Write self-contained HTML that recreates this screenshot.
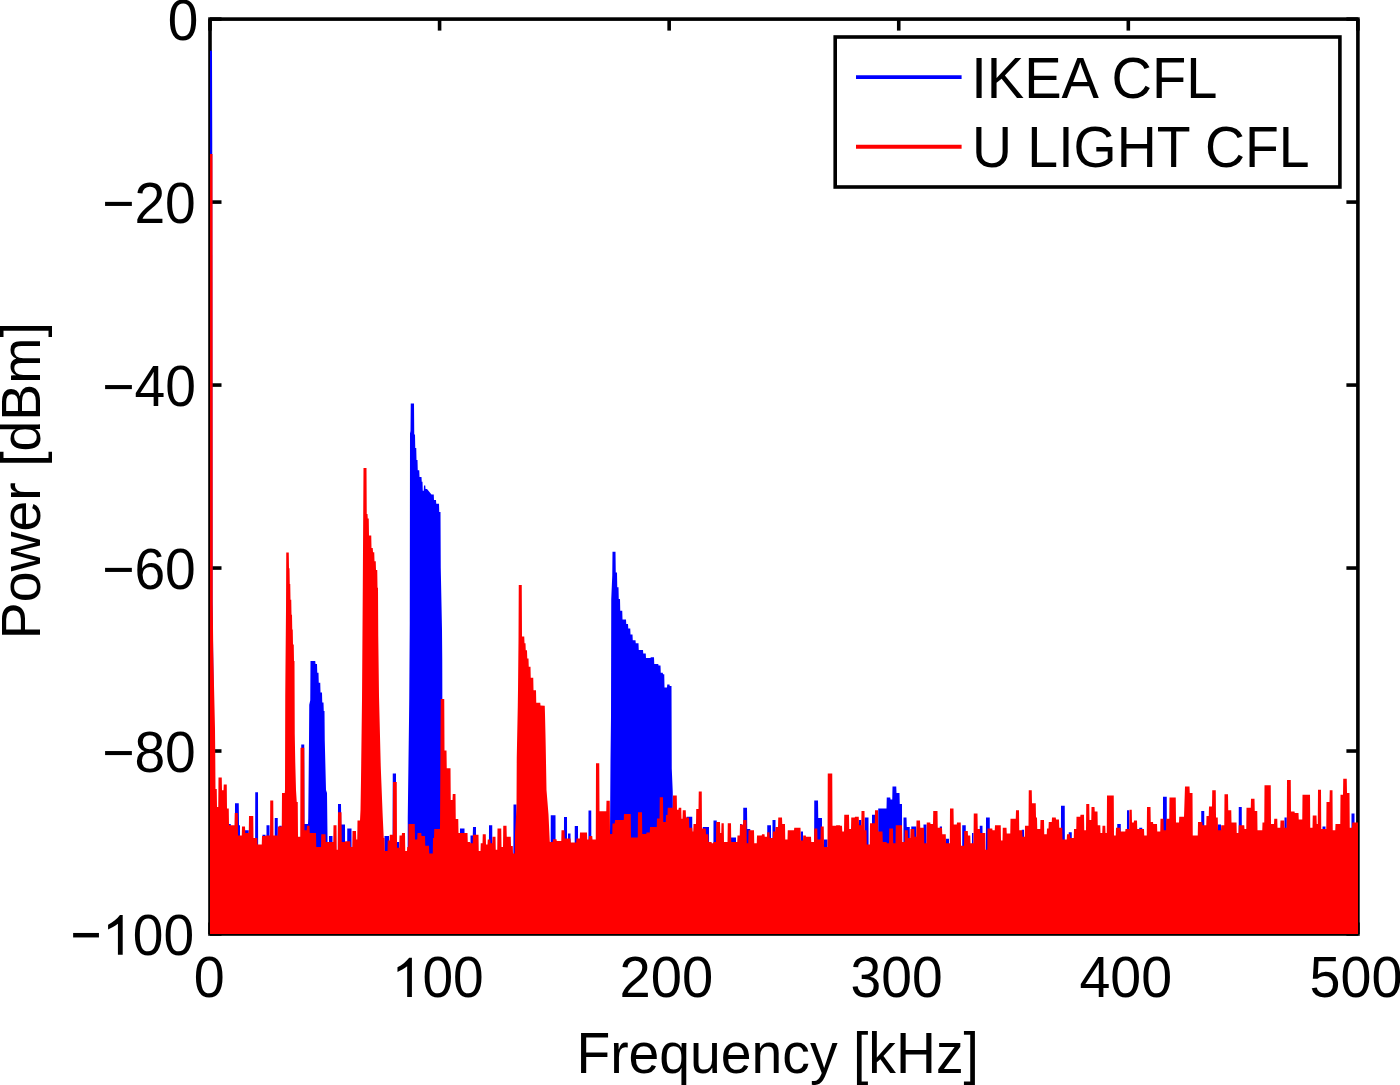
<!DOCTYPE html>
<html><head><meta charset="utf-8"><style>html,body{margin:0;padding:0;background:#fff;overflow:hidden}svg{display:block}</style></head>
<body><svg width="1400" height="1085" viewBox="0 0 1400 1085">
<rect width="1400" height="1085" fill="#fff"/>
<g fill="none" stroke="#000" stroke-width="3.6" stroke-linecap="butt">
<rect x="210" y="19.1" width="1147.9" height="914.9" stroke-linejoin="miter"/>
<line x1="210.00" y1="934" x2="210.00" y2="922.5"/><line x1="210.00" y1="19.1" x2="210.00" y2="30.6"/><line x1="439.58" y1="934" x2="439.58" y2="922.5"/><line x1="439.58" y1="19.1" x2="439.58" y2="30.6"/><line x1="669.16" y1="934" x2="669.16" y2="922.5"/><line x1="669.16" y1="19.1" x2="669.16" y2="30.6"/><line x1="898.74" y1="934" x2="898.74" y2="922.5"/><line x1="898.74" y1="19.1" x2="898.74" y2="30.6"/><line x1="1128.32" y1="934" x2="1128.32" y2="922.5"/><line x1="1128.32" y1="19.1" x2="1128.32" y2="30.6"/><line x1="1357.90" y1="934" x2="1357.90" y2="922.5"/><line x1="1357.90" y1="19.1" x2="1357.90" y2="30.6"/><line x1="210" y1="19.10" x2="221.5" y2="19.10"/><line x1="1357.9" y1="19.10" x2="1346.4" y2="19.10"/><line x1="210" y1="202.08" x2="221.5" y2="202.08"/><line x1="1357.9" y1="202.08" x2="1346.4" y2="202.08"/><line x1="210" y1="385.06" x2="221.5" y2="385.06"/><line x1="1357.9" y1="385.06" x2="1346.4" y2="385.06"/><line x1="210" y1="568.04" x2="221.5" y2="568.04"/><line x1="1357.9" y1="568.04" x2="1346.4" y2="568.04"/><line x1="210" y1="751.02" x2="221.5" y2="751.02"/><line x1="1357.9" y1="751.02" x2="1346.4" y2="751.02"/><line x1="210" y1="934.00" x2="221.5" y2="934.00"/><line x1="1357.9" y1="934.00" x2="1346.4" y2="934.00"/>
</g>
<defs><clipPath id="c"><rect x="210" y="19.1" width="1147.9" height="914.9"/></clipPath></defs>
<g clip-path="url(#c)">
<path d="M208.00,939.0 208.00,900.0 209.75,900.0 210.00,50.7 212.00,50.7 212.25,142.3 212.50,600.0 213.50,680.0 213.75,900.0 228.75,900.0 229.00,823.9 230.75,823.9 231.00,900.0 234.75,900.0 235.00,803.2 238.75,803.2 239.00,825.2 240.00,825.2 240.25,900.0 244.75,900.0 245.00,830.3 248.75,830.3 249.00,900.0 255.00,900.0 255.25,792.3 258.00,792.3 258.25,900.0 262.25,900.0 262.50,834.8 265.50,834.8 265.75,900.0 266.25,900.0 266.50,825.2 269.50,825.2 269.75,900.0 274.50,900.0 274.75,818.0 277.75,818.0 278.00,900.0 279.00,900.0 279.25,825.8 281.75,825.8 282.00,900.0 301.00,900.0 301.25,744.5 304.25,744.5 304.50,823.9 308.00,823.9 308.25,818.7 309.00,740.8 309.25,704.8 310.25,700.2 310.50,661.1 315.25,661.1 315.50,664.0 317.00,664.0 317.25,672.7 318.50,672.7 318.75,682.7 320.25,682.7 320.50,692.6 322.00,692.6 322.25,702.6 323.50,702.6 323.75,710.9 324.50,710.9 324.75,740.0 326.00,790.0 327.00,793.0 327.50,836.0 327.75,900.0 328.75,900.0 329.00,836.1 332.50,836.1 332.75,900.0 337.75,900.0 338.00,803.9 341.00,803.9 341.25,824.5 345.00,824.5 345.25,900.0 347.00,900.0 347.25,828.4 351.50,828.4 351.75,900.0 384.25,900.0 384.50,836.1 389.00,836.1 389.25,900.0 392.50,900.0 392.75,773.5 396.00,773.5 396.25,900.0 396.75,900.0 397.00,842.0 399.25,842.0 399.50,900.0 407.50,900.0 407.75,817.2 409.00,721.3 409.25,698.4 409.75,622.7 410.00,433.5 410.50,431.0 410.75,403.4 414.00,403.4 414.25,434.5 415.00,434.5 415.25,448.0 416.25,448.0 416.50,460.0 417.50,460.0 417.75,470.3 419.25,470.3 419.50,477.0 421.50,477.0 421.75,481.7 422.50,481.7 422.75,490.8 423.75,490.8 424.00,485.5 425.25,485.5 425.50,489.0 427.00,489.0 431.50,494.6 433.75,494.6 434.00,500.0 436.00,500.0 436.25,503.7 439.00,503.7 439.25,512.0 440.50,512.0 440.75,567.5 442.00,630.0 442.25,660.0 442.50,760.0 443.00,829.0 443.25,900.0 459.75,900.0 460.00,828.4 464.50,828.4 464.75,900.0 470.25,900.0 470.50,835.5 472.75,835.5 473.00,827.1 476.00,827.1 476.25,900.0 488.75,900.0 489.00,825.2 492.25,825.2 492.50,900.0 513.25,900.0 513.50,804.5 516.50,804.5 516.75,900.0 550.50,900.0 550.75,815.2 555.50,815.2 555.75,900.0 563.75,900.0 564.00,817.0 567.00,817.0 567.25,900.0 567.75,900.0 568.00,833.5 570.50,833.5 570.75,900.0 574.50,900.0 574.75,826.0 578.00,826.0 578.25,900.0 588.25,900.0 588.50,810.5 591.25,810.5 591.50,900.0 609.75,900.0 610.00,834.0 610.50,760.0 611.00,717.1 611.25,598.9 612.25,575.5 612.50,551.8 615.50,551.8 615.75,572.4 617.00,572.4 617.25,587.2 618.50,587.2 618.75,599.0 620.00,599.0 620.25,610.8 622.25,610.8 622.50,619.6 626.00,619.6 626.25,624.1 628.00,624.1 628.25,628.5 630.25,628.5 630.50,634.4 632.50,634.4 632.75,640.3 635.50,640.3 635.75,643.2 638.50,643.2 638.75,649.9 643.00,649.9 643.25,653.6 645.75,653.6 646.00,658.0 650.50,658.0 650.75,657.3 654.00,657.3 654.25,663.9 658.25,663.9 658.50,665.4 660.50,665.4 660.75,672.7 662.75,672.7 663.00,674.2 664.25,674.2 664.50,687.5 667.00,687.5 667.25,684.5 669.50,684.5 669.75,686.0 671.50,686.0 671.75,768.5 672.75,792.0 673.00,830.0 673.25,900.0 686.25,900.0 686.50,816.8 692.25,816.8 692.50,900.0 702.50,900.0 702.75,827.1 709.00,827.1 709.25,900.0 713.25,900.0 713.50,820.6 716.75,820.6 717.00,900.0 730.75,900.0 731.00,837.4 736.00,837.4 736.25,900.0 739.75,900.0 740.00,823.9 741.75,823.9 742.00,900.0 743.00,900.0 743.25,807.7 747.00,807.7 747.25,829.0 750.25,829.0 750.50,900.0 767.00,900.0 767.25,825.2 771.00,825.2 771.25,900.0 772.25,900.0 772.50,820.0 775.50,820.0 775.75,900.0 800.50,900.0 800.75,831.6 803.00,831.6 803.25,900.0 814.00,900.0 814.25,800.6 818.00,800.6 818.25,818.0 822.00,818.0 822.25,900.0 823.75,900.0 824.00,839.4 827.50,839.4 827.75,900.0 858.75,900.0 859.00,820.0 861.25,820.0 861.50,900.0 864.50,900.0 864.75,817.4 868.50,817.4 868.75,900.0 871.75,900.0 872.00,814.8 875.00,814.8 875.25,900.0 878.00,900.0 878.25,808.4 886.50,808.4 886.75,797.4 890.25,797.4 890.50,799.4 892.25,799.4 892.50,786.5 896.25,786.5 896.50,792.9 899.50,792.9 899.75,803.9 902.00,803.9 902.25,900.0 903.25,900.0 903.50,817.4 906.50,817.4 906.75,827.1 909.75,827.1 910.00,900.0 911.00,900.0 911.25,826.5 916.25,826.5 916.50,900.0 923.25,900.0 923.50,824.5 926.50,824.5 926.75,900.0 939.50,900.0 939.75,826.5 942.00,826.5 942.25,900.0 945.75,900.0 946.00,838.7 949.00,838.7 949.25,900.0 962.00,900.0 962.25,825.2 965.75,825.2 966.00,900.0 971.75,900.0 972.00,832.9 973.50,832.9 973.75,900.0 979.50,900.0 979.75,825.8 982.50,825.8 982.75,900.0 985.75,900.0 986.00,817.4 989.75,817.4 990.00,900.0 1021.50,900.0 1021.75,829.7 1024.00,829.7 1024.25,900.0 1036.25,900.0 1036.50,829.0 1039.00,829.0 1039.25,900.0 1060.75,900.0 1061.00,805.8 1064.75,805.8 1065.00,900.0 1068.50,900.0 1068.75,832.3 1071.75,832.3 1072.00,900.0 1117.00,900.0 1117.25,823.9 1120.75,823.9 1121.00,900.0 1126.75,900.0 1127.00,810.3 1129.25,810.3 1129.50,900.0 1139.00,900.0 1139.25,827.7 1142.25,827.7 1142.50,900.0 1162.75,900.0 1163.00,796.8 1166.75,796.8 1167.00,900.0 1201.00,900.0 1201.25,811.0 1204.25,811.0 1204.50,900.0 1217.75,900.0 1218.00,824.5 1221.00,824.5 1221.25,900.0 1238.50,900.0 1238.75,807.1 1241.75,807.1 1242.00,900.0 1284.25,900.0 1284.50,817.4 1286.75,817.4 1287.00,900.0 1322.25,900.0 1322.50,826.5 1325.50,826.5 1325.75,900.0 1351.25,900.0 1351.50,813.5 1354.50,813.5 1354.75,900.0 1360.00,900.0 1360.00,939.0Z" fill="#0000ff"/>
<path d="M208.00,939.0 208.00,154.0 212.50,154.0 212.75,604.5 213.25,650.4 213.50,663.7 215.00,729.0 215.25,754.8 215.50,789.0 216.75,789.0 217.00,807.0 218.25,807.0 218.50,777.4 221.75,777.4 222.00,790.3 223.50,790.3 223.75,784.5 226.75,784.5 227.00,808.4 228.75,808.4 229.00,825.2 234.50,825.2 234.75,812.9 237.75,812.9 238.00,835.5 241.75,835.5 242.00,826.5 245.00,826.5 245.25,832.9 248.75,832.9 249.00,816.1 253.25,816.1 253.50,838.0 257.25,838.0 257.50,844.5 261.75,844.5 262.00,836.1 265.50,836.1 265.75,835.5 270.00,835.5 270.25,800.6 273.25,800.6 273.50,835.5 277.75,835.5 278.00,826.5 281.75,826.5 282.00,792.9 284.75,792.9 285.00,790.0 285.25,695.1 285.50,665.0 286.00,610.0 286.25,552.5 288.75,552.5 289.00,568.2 289.50,568.2 289.75,584.0 290.25,584.0 290.50,599.7 291.25,599.7 291.50,614.7 292.00,614.7 292.25,629.6 292.75,629.6 293.00,644.5 293.75,644.5 294.00,661.1 294.50,661.1 294.75,733.7 295.00,748.3 295.25,761.9 296.00,790.0 296.75,802.0 297.75,802.0 298.00,836.8 300.25,836.8 300.50,747.7 304.25,747.7 304.50,830.3 306.75,830.3 307.00,825.8 309.50,825.8 309.75,832.9 316.00,832.9 316.25,847.1 321.00,847.1 321.25,834.2 325.50,834.2 325.75,842.0 333.25,842.0 333.50,825.2 336.50,825.2 336.75,849.7 337.75,849.7 338.00,812.3 341.50,812.3 341.75,842.0 345.00,842.0 345.25,841.3 350.25,841.3 350.50,847.1 352.25,847.1 352.50,831.0 356.00,831.0 356.25,839.4 357.25,839.4 357.50,820.6 360.00,820.6 360.50,810.0 361.00,780.0 362.00,700.0 362.50,628.6 362.75,591.7 363.25,508.3 363.50,468.0 366.50,468.0 366.75,514.0 367.50,514.0 367.75,518.4 368.75,518.4 369.00,535.4 371.25,535.4 371.50,547.9 372.75,547.9 373.00,552.3 374.25,552.3 374.50,561.2 375.75,561.2 376.00,570.0 377.25,570.0 377.50,587.7 378.00,587.7 378.25,635.2 379.00,696.0 380.75,766.0 381.00,773.1 382.50,810.9 382.75,817.1 383.50,832.9 383.75,838.0 384.50,838.0 384.75,851.0 387.50,851.0 387.75,840.6 389.50,840.6 389.75,834.8 392.75,834.8 393.00,781.9 396.75,781.9 397.00,847.7 399.25,847.7 399.50,835.5 401.75,835.5 402.00,832.9 405.00,832.9 405.25,851.0 407.00,851.0 407.25,847.1 408.25,847.1 408.50,823.9 414.75,823.9 415.00,839.4 417.25,839.4 417.50,832.9 421.25,832.9 421.50,836.1 425.00,836.1 425.25,845.8 429.00,845.8 429.25,853.5 432.75,853.5 433.00,838.0 434.00,838.0 434.25,829.0 440.00,829.0 440.50,739.7 440.75,699.0 444.25,699.0 444.50,750.6 446.50,750.6 446.75,768.3 450.50,768.3 450.75,800.0 452.50,800.0 452.75,794.0 455.50,794.0 455.75,819.0 458.25,819.0 458.50,832.9 467.50,832.9 467.75,842.0 470.25,842.0 470.50,843.2 472.75,843.2 473.00,834.8 478.50,834.8 478.75,851.0 480.50,851.0 480.75,843.2 482.50,843.2 482.75,834.2 485.75,834.2 486.00,844.5 487.50,844.5 487.75,839.4 490.25,839.4 490.50,843.2 492.25,843.2 492.50,836.8 495.50,836.8 495.75,849.7 497.25,849.7 497.50,828.4 501.25,828.4 501.50,847.1 503.00,847.1 503.25,825.8 506.50,825.8 506.75,836.8 510.75,836.8 511.00,846.0 512.75,846.0 513.00,853.5 514.75,853.5 515.00,834.0 516.50,807.8 516.75,757.5 517.75,707.5 518.00,690.0 518.50,640.0 518.75,584.9 521.75,584.9 522.00,636.4 524.25,636.4 524.50,643.3 525.50,643.3 525.75,650.2 527.00,650.2 527.25,658.5 528.50,658.5 528.75,666.8 530.50,666.8 530.75,677.8 533.25,677.8 533.50,690.3 536.00,690.3 536.25,702.7 540.25,702.7 540.50,705.5 544.75,705.8 545.00,714.4 545.50,735.7 545.75,748.3 546.50,790.0 548.50,814.4 549.75,841.5 550.00,842.0 552.75,842.0 553.00,839.3 556.50,839.3 556.75,841.0 561.25,841.0 561.50,830.2 564.50,830.2 564.75,838.5 570.50,838.5 570.75,842.6 576.25,842.6 576.50,838.5 579.75,838.5 580.00,832.4 587.00,832.4 587.25,839.4 588.75,839.4 589.00,835.9 592.25,835.9 592.50,839.4 595.75,839.4 596.00,763.2 599.25,763.2 599.50,811.3 606.25,811.3 606.50,800.8 609.75,800.8 610.00,834.1 612.25,834.1 612.50,823.6 614.75,823.6 615.00,820.1 623.75,820.1 624.00,814.0 630.75,814.0 631.00,837.6 637.75,837.6 638.00,812.2 642.00,812.2 642.25,834.1 646.25,834.1 646.50,832.4 649.75,832.4 650.00,827.1 656.75,827.1 657.00,818.4 659.50,818.4 659.75,797.3 663.00,797.3 663.25,821.9 665.75,821.9 666.00,814.9 667.50,814.9 667.75,807.7 672.75,807.7 673.00,795.5 676.75,795.5 677.00,809.7 678.50,809.7 678.75,807.7 681.25,807.7 681.50,818.7 682.50,818.7 682.75,810.3 685.75,810.3 686.00,817.4 689.00,817.4 689.25,827.7 692.25,827.7 692.50,831.6 693.25,831.6 693.50,823.9 696.00,823.9 696.25,809.0 698.50,809.0 698.75,791.6 701.75,791.6 702.00,828.4 705.75,828.4 706.00,834.2 708.25,834.2 708.50,842.0 711.50,842.0 711.75,843.2 713.25,843.2 713.50,842.0 716.00,842.0 716.25,821.9 720.00,821.9 720.25,832.9 721.25,832.9 721.50,823.2 723.75,823.2 724.00,842.0 727.50,842.0 727.75,823.2 731.00,823.2 731.25,842.0 737.25,842.0 737.50,835.5 739.75,835.5 740.00,824.5 743.00,824.5 743.25,820.0 746.50,820.0 746.75,843.2 748.25,843.2 748.50,830.3 754.00,830.3 754.25,843.2 756.75,843.2 757.00,835.5 761.75,835.5 762.00,834.2 764.50,834.2 764.75,836.8 767.00,836.8 767.25,832.3 769.50,832.3 769.75,838.0 772.75,838.0 773.00,831.6 775.25,831.6 775.50,827.1 778.00,827.1 778.25,817.4 782.00,817.4 782.25,823.9 785.00,823.9 785.25,839.4 787.50,839.4 787.75,830.3 794.00,830.3 794.25,827.7 800.50,827.7 800.75,840.6 803.00,840.6 803.25,835.5 805.75,835.5 806.00,836.8 811.00,836.8 811.25,842.0 814.00,842.0 814.25,828.4 817.25,828.4 817.50,839.4 820.50,839.4 820.75,826.5 823.75,826.5 824.00,847.1 827.50,847.1 827.75,773.5 832.25,773.5 832.50,825.8 836.00,825.8 836.25,825.2 840.00,825.2 840.25,825.8 842.00,825.8 842.25,831.6 844.00,831.6 844.25,814.8 849.00,814.8 849.25,829.0 851.00,829.0 851.25,817.4 854.75,817.4 855.00,816.8 858.75,816.8 859.00,825.2 861.25,825.2 861.50,811.0 864.50,811.0 864.75,830.3 866.50,830.3 866.75,844.5 869.75,844.5 870.00,823.2 874.75,823.2 875.00,810.3 878.00,810.3 878.25,831.6 882.50,831.6 882.75,841.9 886.50,841.9 886.75,843.2 889.00,843.2 889.25,828.4 893.00,828.4 893.25,843.2 895.50,843.2 895.75,825.2 902.00,825.2 902.25,841.9 904.50,841.9 904.75,830.3 907.75,830.3 908.00,838.1 910.25,838.1 910.50,829.0 914.25,829.0 914.50,836.8 916.25,836.8 916.50,820.6 920.00,820.6 920.25,827.7 924.00,827.7 924.25,843.2 926.50,843.2 926.75,822.6 930.25,822.6 930.50,823.9 933.00,823.9 933.25,811.0 937.50,811.0 937.75,827.7 942.00,827.7 942.25,834.2 945.75,834.2 946.00,843.2 949.75,843.2 950.00,808.4 953.50,808.4 953.75,824.5 956.75,824.5 957.00,822.6 960.75,822.6 961.00,845.8 964.00,845.8 964.25,831.0 967.75,831.0 968.00,835.5 970.25,835.5 970.50,843.2 973.50,843.2 973.75,813.5 977.50,813.5 977.75,829.0 980.00,829.0 980.25,832.9 985.25,832.9 985.50,849.7 987.25,849.7 987.50,828.4 992.25,828.4 992.50,830.3 994.75,830.3 995.00,825.2 1000.75,825.2 1001.00,840.6 1002.50,840.6 1002.75,827.7 1006.50,827.7 1006.75,833.5 1010.25,833.5 1010.50,818.7 1015.75,818.7 1016.00,810.3 1019.00,810.3 1019.25,830.3 1022.25,830.3 1022.50,836.8 1024.75,836.8 1025.00,825.8 1028.50,825.8 1028.75,790.3 1031.75,790.3 1032.00,803.2 1035.75,803.2 1036.00,817.4 1037.00,817.4 1037.25,829.0 1040.25,829.0 1040.50,820.0 1044.00,820.0 1044.25,834.2 1046.75,834.2 1047.00,828.4 1048.50,828.4 1048.75,821.9 1051.75,821.9 1052.00,817.4 1055.75,817.4 1056.00,819.4 1059.00,819.4 1059.25,827.7 1062.25,827.7 1062.50,839.4 1066.75,839.4 1067.00,834.2 1070.00,834.2 1070.25,838.1 1073.75,838.1 1074.00,829.0 1076.25,829.0 1076.50,816.8 1080.25,816.8 1080.50,814.8 1084.00,814.8 1084.25,830.3 1086.00,830.3 1086.25,803.9 1089.25,803.9 1089.50,820.0 1091.25,820.0 1091.50,807.1 1094.50,807.1 1094.75,811.6 1097.50,811.6 1097.75,825.2 1100.25,825.2 1100.50,832.9 1102.25,832.9 1102.50,825.8 1105.25,825.8 1105.50,832.9 1106.75,832.9 1107.00,795.5 1113.75,795.5 1114.00,835.5 1115.75,835.5 1116.00,827.7 1120.25,827.7 1120.50,831.6 1125.25,831.6 1125.50,829.0 1129.25,829.0 1129.50,809.7 1131.75,809.7 1132.00,822.6 1133.75,822.6 1134.00,820.6 1137.00,820.6 1137.25,829.0 1144.00,829.0 1144.25,835.5 1146.75,835.5 1147.00,807.1 1150.50,807.1 1150.75,821.9 1153.00,821.9 1153.25,823.9 1157.00,823.9 1157.25,831.6 1160.25,831.6 1160.50,818.7 1163.50,818.7 1163.75,830.3 1166.00,830.3 1166.25,818.7 1169.25,818.7 1169.50,797.4 1175.75,797.4 1176.00,822.6 1179.00,822.6 1179.25,816.8 1184.00,816.8 1185.00,786.5 1189.50,786.5 1189.75,792.9 1192.50,792.9 1192.75,835.5 1197.75,835.5 1198.00,821.9 1202.25,821.9 1202.50,825.2 1206.25,825.2 1206.50,816.1 1208.75,816.1 1209.00,806.5 1212.00,806.5 1212.25,790.3 1215.75,790.3 1216.00,817.4 1217.75,817.4 1218.00,830.3 1221.00,830.3 1221.25,825.2 1224.25,825.2 1224.50,794.2 1228.00,794.2 1228.25,810.3 1231.25,810.3 1231.50,822.6 1236.50,822.6 1236.75,832.9 1238.50,832.9 1238.75,825.2 1244.25,825.2 1244.50,829.0 1246.25,829.0 1246.50,807.7 1250.75,807.7 1251.00,798.7 1254.50,798.7 1254.75,811.0 1257.25,811.0 1257.50,830.3 1262.25,830.3 1262.50,822.6 1264.25,822.6 1264.50,785.2 1270.75,785.2 1271.00,823.9 1274.00,823.9 1274.25,818.7 1277.25,818.7 1277.50,827.7 1280.25,827.7 1280.50,820.6 1284.25,820.6 1284.50,827.7 1286.75,827.7 1287.00,780.0 1290.75,780.0 1291.00,811.6 1294.50,811.6 1294.75,812.9 1298.50,812.9 1298.75,819.4 1302.25,819.4 1302.50,794.8 1310.00,794.8 1310.25,827.7 1312.50,827.7 1312.75,815.5 1316.50,815.5 1316.75,823.9 1317.75,823.9 1318.00,789.7 1321.00,789.7 1321.25,829.0 1326.25,829.0 1326.50,801.9 1329.50,801.9 1329.75,790.3 1332.50,790.3 1332.75,830.3 1335.25,830.3 1335.50,823.9 1340.25,823.9 1340.50,794.8 1343.00,794.8 1343.25,778.7 1346.75,778.7 1347.00,792.9 1349.50,792.9 1349.75,827.7 1352.00,827.7 1352.25,822.6 1360.00,822.6 1360.00,939.0Z" fill="#ff0000"/>
</g>
<g font-family="Liberation Sans, sans-serif" font-size="56" fill="#000">
<text transform="translate(167.79,40.49) scale(0.9813,1.0158)">0</text><text transform="translate(102.19,223.49) scale(0.9856,1.0271)">−20</text><text transform="translate(102.29,406.09) scale(0.9856,1.0145)">−40</text><text transform="translate(102.19,589.19) scale(0.9856,1.0271)">−60</text><text transform="translate(102.19,772.19) scale(0.9856,1.0170)">−80</text><text transform="translate(70.39,956.30) scale(0.9505,1.1250)">−</text><path transform="translate(122.7,915.1) scale(1.0076)" d="M0,0 L0,39.3 L-4.75,39.3 L-4.75,8.5 C-7.9,10.8 -11.4,12.8 -14.5,14.3 L-14.5,9.6 C-10,7.4 -5.8,4 -2.7,0 Z"/><text transform="translate(132.78,954.99) scale(0.9849,1.0271)">00</text><text transform="translate(193.76,997.49) scale(0.9944,1.0120)">0</text><path transform="translate(411.9,957.8) scale(0.9949)" d="M0,0 L0,39.3 L-4.75,39.3 L-4.75,8.5 C-7.9,10.8 -11.4,12.8 -14.5,14.3 L-14.5,9.6 C-10,7.4 -5.8,4 -2.7,0 Z"/><text transform="translate(422.38,997.19) scale(0.9849,1.0170)">00</text><text transform="translate(619.52,997.19) scale(1.0025,1.0170)">200</text><text transform="translate(850.61,997.19) scale(0.9851,1.0170)">300</text><text transform="translate(1079.46,997.19) scale(0.9911,1.0170)">400</text><text transform="translate(1309.57,997.49) scale(0.9933,1.0196)">500</text><text transform="translate(576.43,1072.5) scale(0.9874,1.0128)">Frequency [kHz]</text><text transform="translate(40.2,639.17) rotate(-90) scale(0.9889,1.0)">Power [dBm]</text>
</g>
<g>
<rect x="835.2" y="37" width="504.7" height="150" fill="#fff" stroke="#000" stroke-width="3.6"/>
<line x1="856" y1="77.1" x2="961.6" y2="77.1" stroke="#0000ff" stroke-width="3.9"/>
<line x1="856" y1="146.75" x2="961.6" y2="146.75" stroke="#ff0000" stroke-width="3.9"/>
<g font-family="Liberation Sans, sans-serif" font-size="56" fill="#000">
<text transform="translate(971.17,98.08) scale(1.0018,1.0347)">IKEA CFL</text><text transform="translate(971.97,167.36) scale(0.9896,1.0264)">U LIGHT CFL</text>
</g>
</g>
</svg></body></html>
